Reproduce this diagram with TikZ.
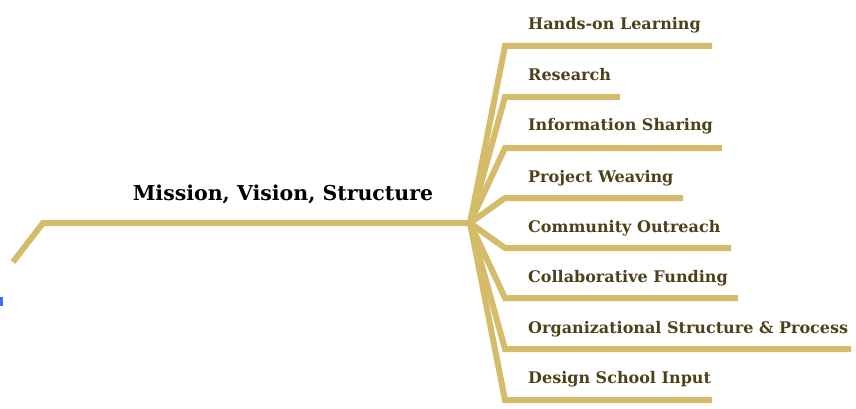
\documentclass[tikz,border=0pt]{standalone}
\usepackage{fontspec}
\setmainfont{DejaVu Serif}
\definecolor{gold}{RGB}{212,188,106}
\definecolor{olive}{RGB}{76,66,26}
\begin{document}
\begin{tikzpicture}[x=1pt,y=-1pt]
\useasboundingbox (0,0) rectangle (856,409);
\fill[blue!70!cyan!80] (0,297) rectangle (3,306);
\coordinate (s) at (13,262);
\coordinate (k) at (43,223);
\coordinate (hub) at (470,223);
\node[anchor=base,inner sep=0,font=\bfseries\fontsize{20.5}{22}\selectfont] (t) at (283,200) {Mission, Vision, Structure};
\node[anchor=base west,inner sep=0,text=olive,font=\bfseries\fontsize{16}{18}\selectfont] (1) at (528,30) {Hands-on Learning};
\node[anchor=base west,inner sep=0,text=olive,font=\bfseries\fontsize{16}{18}\selectfont] (2) at (528,81) {Research};
\node[anchor=base west,inner sep=0,text=olive,font=\bfseries\fontsize{16}{18}\selectfont] (3) at (528,131) {Information Sharing};
\node[anchor=base west,inner sep=0,text=olive,font=\bfseries\fontsize{16}{18}\selectfont] (4) at (528,182) {Project Weaving};
\node[anchor=base west,inner sep=0,text=olive,font=\bfseries\fontsize{16}{18}\selectfont] (5) at (528,232) {Community Outreach};
\node[anchor=base west,inner sep=0,text=olive,font=\bfseries\fontsize{16}{18}\selectfont] (6) at (528,282) {Collaborative Funding};
\node[anchor=base west,inner sep=0,text=olive,font=\bfseries\fontsize{16}{18}\selectfont] (7) at (528,333) {Organizational Structure \& Process};
\node[anchor=base west,inner sep=0,text=olive,font=\bfseries\fontsize{16}{18}\selectfont] (8) at (528,383) {Design School Input};
\coordinate (c1) at (505,46);  \coordinate (e1) at (712,46);
\coordinate (c2) at (505,97);  \coordinate (e2) at (620,97);
\coordinate (c3) at (505,148); \coordinate (e3) at (722,148);
\coordinate (c4) at (505,198); \coordinate (e4) at (683,198);
\coordinate (c5) at (505,248); \coordinate (e5) at (731,248);
\coordinate (c6) at (505,298); \coordinate (e6) at (738,298);
\coordinate (c7) at (505,349); \coordinate (e7) at (851,349);
\coordinate (c8) at (505,400); \coordinate (e8) at (712,400);
\path[draw,gold,line width=6] (s) -- (k) -- (hub);
\path[draw,gold,line width=6] (hub) -- (c1) -- (e1);
\path[draw,gold,line width=6] (hub) -- (c2) -- (e2);
\path[draw,gold,line width=6] (hub) -- (c3) -- (e3);
\path[draw,gold,line width=6] (hub) -- (c4) -- (e4);
\path[draw,gold,line width=6] (hub) -- (c5) -- (e5);
\path[draw,gold,line width=6] (hub) -- (c6) -- (e6);
\path[draw,gold,line width=6] (hub) -- (c7) -- (e7);
\path[draw,gold,line width=6] (hub) -- (c8) -- (e8);
\end{tikzpicture}
\end{document}
